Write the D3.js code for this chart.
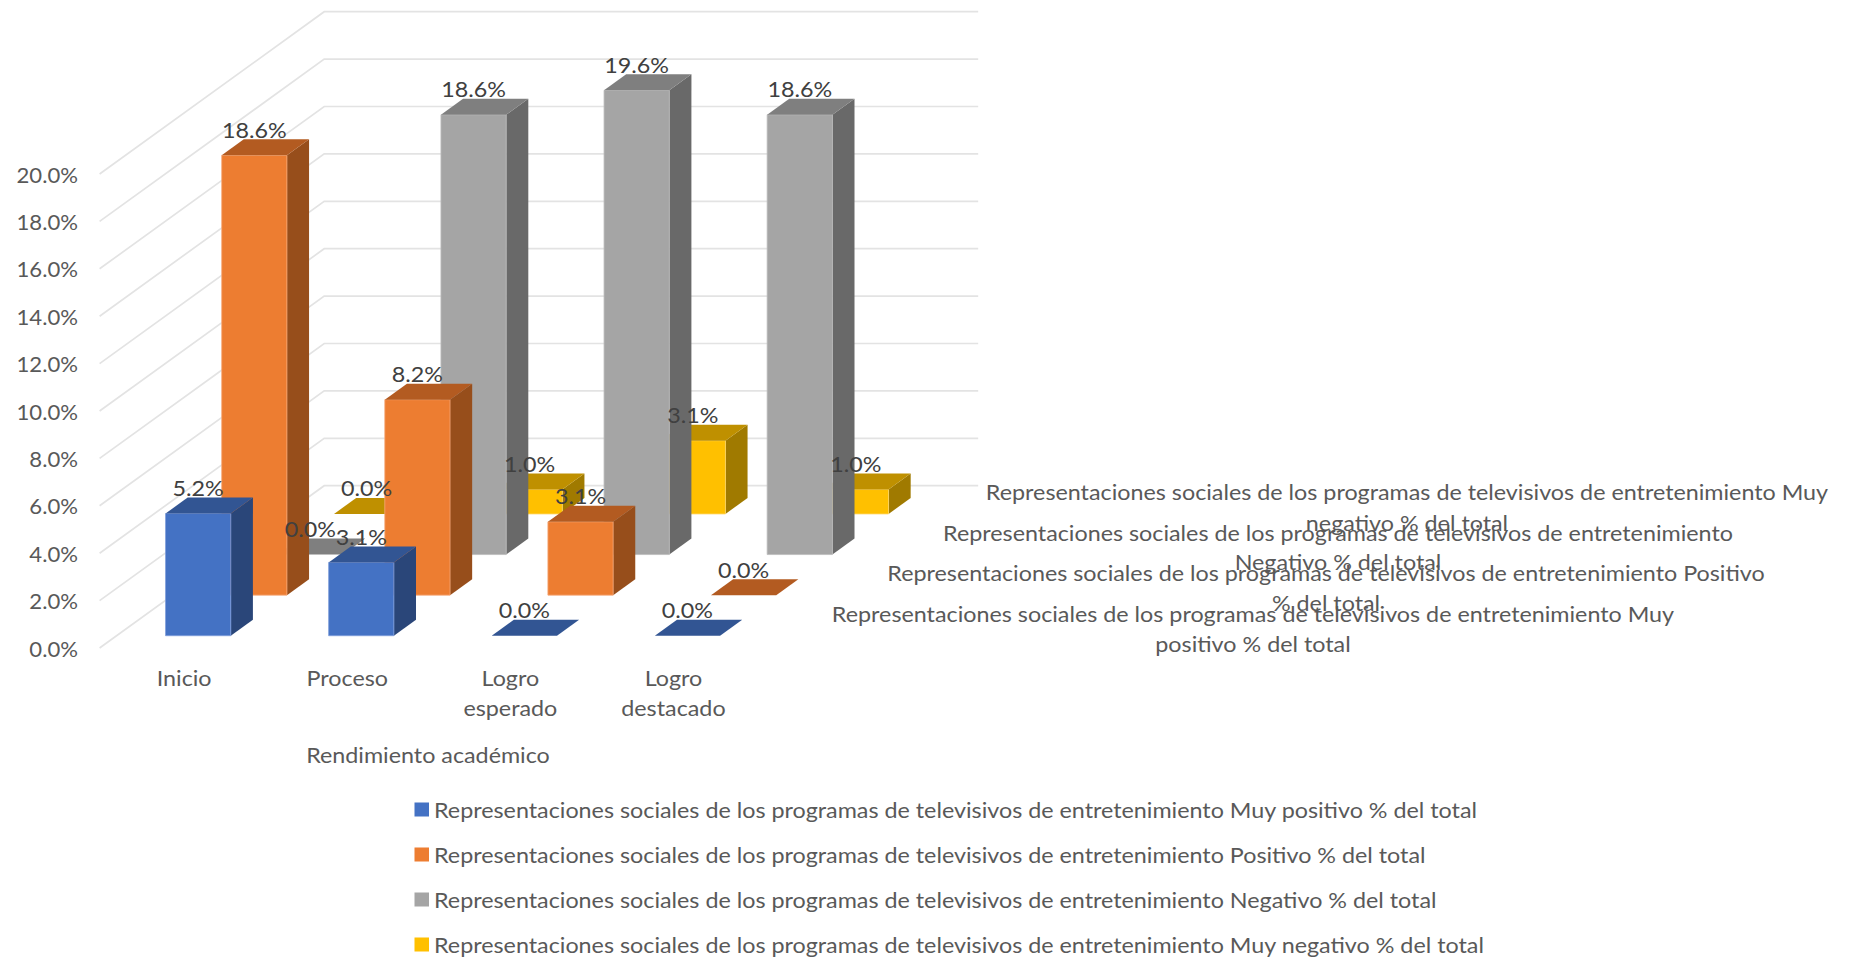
<!DOCTYPE html>
<html lang="es">
<head>
<meta charset="utf-8">
<title>Rendimiento académico</title>
<script src="https://cdn.jsdelivr.net/npm/d3@7/dist/d3.min.js"></script>
<style>
html,body{margin:0;padding:0;background:#fff;overflow:hidden}
svg{display:block}
text{font-family:Lato,"Open Sans",sans-serif;fill:#595959}
</style>
</head>
<body>
<svg id="chart" width="1851" height="960"></svg>
<script>
// ---- data ----
const categories = ["Inicio", "Proceso", "Logro esperado", "Logro destacado"];
const seriesShort = ["Muy positivo", "Positivo", "Negativo", "Muy negativo"];
const muyPositivo = [5.155, 3.093, 0.0, 0.0];
const positivo    = [18.557, 8.247, 3.093, 0.0];
const negativo    = [0.0, 18.557, 19.588, 18.557];
const muyNegativo = [0.0, 1.031, 3.093, 1.031];
const yTicks = [0, 2, 4, 6, 8, 10, 12, 14, 16, 18, 20];
const axisTitle = "Rendimiento académico";
const namePrefix = "Representaciones sociales de los programas de televisivos de entretenimiento ";
const nameSuffix = " % del total";
const depthLines = [
  ["Representaciones sociales de los programas de televisivos de entretenimiento Muy", "positivo % del total"],
  ["Representaciones sociales de los programas de televisivos de entretenimiento Positivo", "% del total"],
  ["Representaciones sociales de los programas de televisivos de entretenimiento", "Negativo % del total"],
  ["Representaciones sociales de los programas de televisivos de entretenimiento Muy", "negativo % del total"]
];

// ---- styling and layout ----
const seriesValues = [muyPositivo, positivo, negativo, muyNegativo];
const frontColor = ["#4472c4", "#ed7d31", "#a5a5a5", "#ffc000"];
const topColor   = ["#325593", "#b35b21", "#7f7f7f", "#bf9000"];
const sideColor  = ["#2a4679", "#974e1b", "#696969", "#a07a00"];
const edgeColor  = ["#7f9ddb", "#f6a878", "#bdbdbd", "#ffd766"];
const FONT = 22, TEXT_WIDTH_LEGEND = 1043;
const wallLeft = 99.6, wallRight = 753.6;
const wallShiftX = 224.6, wallShiftY = 162.3;
const depthAnchor = [[1253, 613.5, 643], [1326, 572.5, 602], [1338, 532.5, 561], [1407, 491.5, 522]];

const svg = d3.select("#chart");

const xScale = d3.scaleBand().domain(categories).range([wallLeft, 752])
  .paddingInner(0.6).paddingOuter(0.3);
const yScale = d3.scaleLinear().domain([0, 20]).range([648, 174]);
const depthScale = d3.scaleBand().domain(seriesShort).range([0, 1])
  .paddingInner(0.606).paddingOuter(0.303);

const proj = (x, d, v) => [x + d * wallShiftX, yScale(v) - d * wallShiftY];
const poly = d3.line();

// text helper: narrows Lato to the metrics of the original face
const measure = svg.append("text").attr("font-size", FONT)
  .text(namePrefix + "Muy positivo" + nameSuffix);
const widthRatio = TEXT_WIDTH_LEGEND / measure.node().getComputedTextLength();
measure.remove();
function fit(sel, extra) {
  sel.each(function () {
    const len = this.getComputedTextLength();
    d3.select(this).attr("textLength", len * widthRatio * (extra || 1)).attr("lengthAdjust", "spacingAndGlyphs");
  });
  return sel;
}
function label(x, y, str, anchor) {
  return fit(svg.append("text").attr("x", x).attr("y", y)
    .attr("font-size", FONT).attr("text-anchor", anchor || "middle")
    .attr("dominant-baseline", "central").text(str));
}

// walls
const grid = svg.append("g").attr("fill", "none").attr("stroke", "#e3e3e3").attr("stroke-width", 1.7);
grid.selectAll("path").data(yTicks).join("path")
  .attr("d", v => poly([proj(wallLeft, 0, v), proj(wallLeft, 1, v), proj(wallRight, 1, v)]));

// y axis
const yAxis = svg.append("g").attr("transform", "translate(88,1)")
  .call(d3.axisLeft(yScale).tickValues(yTicks).tickSize(0).tickPadding(10)
    .tickFormat(v => v.toFixed(1) + "%"));
yAxis.select(".domain").remove();
yAxis.selectAll("text").attr("font-size", FONT).attr("fill", null);
yAxis.attr("font-family", null).attr("font-size", null);
fit(yAxis.selectAll("text"), 0.95);

// bars, back row first
const barLabels = [];
d3.range(seriesShort.length - 1, -1, -1).forEach(s => {
  const d0 = depthScale(seriesShort[s]);
  const d1 = d0 + depthScale.bandwidth();
  categories.forEach((c, i) => {
    const v = seriesValues[s][i];
    const x0 = xScale(c), x1 = x0 + xScale.bandwidth();
    const g = svg.append("g");
    if (v > 0) {
      g.append("path").attr("fill", sideColor[s])
        .attr("d", poly([proj(x1, d0, 0), proj(x1, d1, 0), proj(x1, d1, v), proj(x1, d0, v)]) + "Z");
      g.append("path").attr("fill", frontColor[s]).attr("stroke", edgeColor[s]).attr("stroke-width", 0.8)
        .attr("d", poly([proj(x0, d0, 0), proj(x1, d0, 0), proj(x1, d0, v), proj(x0, d0, v)]) + "Z");
    }
    g.append("path").attr("fill", topColor[s])
      .attr("d", poly([proj(x0, d0, v), proj(x1, d0, v), proj(x1, d1, v), proj(x0, d1, v)]) + "Z");
    const p = proj((x0 + x1) / 2, d0, v);
    barLabels.push({ x: p[0], y: p[1] - 26, t: v.toFixed(1) + "%" });
  });
});
barLabels.forEach(d => label(d.x, d.y, d.t).style("fill", "#404040"));

// category labels
const catCenters = categories.map(c => xScale(c) + xScale.bandwidth() / 2 + 3);
categories.forEach((c, i) => {
  const parts = c.split(" ");
  parts.forEach((w, j) => label(catCenters[i], 677.5 + j * 29.5, w));
});
label(428, 754.5, axisTitle);

// labels of the depth axis
depthLines.forEach((lines, i) => {
  label(depthAnchor[i][0], depthAnchor[i][1], lines[0]);
  label(depthAnchor[i][0], depthAnchor[i][2], lines[1]);
});

// legend
const legendY = d3.scalePoint().domain(seriesShort).range([809, 944]);
seriesShort.forEach((s, i) => {
  svg.append("rect").attr("x", 414.5).attr("y", legendY(s) - 6.5).attr("width", 14.5).attr("height", 14)
    .attr("fill", frontColor[i]);
  label(434, legendY(s), namePrefix + s + nameSuffix, "start");
});
</script>
</body>
</html>
